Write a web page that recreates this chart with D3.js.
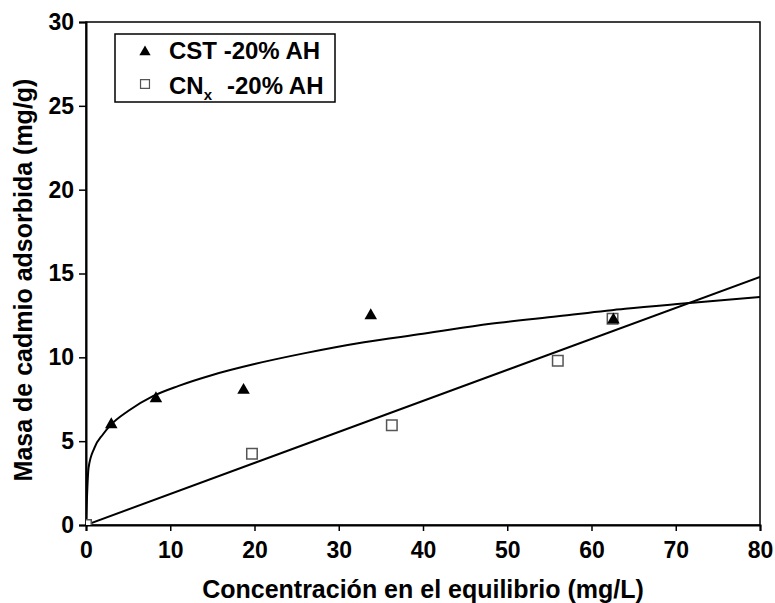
<!DOCTYPE html>
<html>
<head>
<meta charset="utf-8">
<script src="https://cdn.jsdelivr.net/npm/d3@7"></script>
<style>
  body { margin: 0; background: #fff; }
  text { font-family: "Liberation Sans", Arial, sans-serif; font-weight: bold; fill: #000; }
</style>
</head>
<body>
<script>
// CST -20% AH (triangulos)
const cstX = [3.0, 8.3, 18.7, 33.8, 62.6];
const cstY = [6.05, 7.6, 8.1, 12.55, 12.3];
// CNx -20% AH (cuadrados)
const cnX = [0, 19.7, 36.3, 56.0, 62.5];
const cnY = [0, 4.25, 5.95, 9.8, 12.3];

// curva de ajuste CST
const fitCstX = [0, 0.3, 1, 2, 3, 5, 8, 11, 15, 20, 26, 33, 40, 48, 56, 64, 72, 80];
const fitCstY = [0, 3.4, 4.6, 5.4, 6.0, 6.8, 7.7, 8.3, 8.95, 9.6, 10.25, 10.9, 11.4, 12.0, 12.45, 12.9, 13.25, 13.6];
// recta de ajuste CNx
const fitCnX = [0, 80];
const fitCnY = [0, 14.8];

const xTicks = [0, 10, 20, 30, 40, 50, 60, 70, 80];
const yTicks = [0, 5, 10, 15, 20, 25, 30];

const width = 775;
const height = 603;
const mLeft = 86, mRight = 760, mTop = 22, mBottom = 525;

const svg = d3.select('body')
  .append('svg')
  .attr('width', width)
  .attr('height', height);

const x = d3.scaleLinear().domain([0, 80]).range([mLeft, mRight]);
const y = d3.scaleLinear().domain([0, 30]).range([mBottom, mTop]);

svg.append('clipPath')
  .attr('id', 'plot')
  .append('rect')
  .attr('x', mLeft).attr('y', mTop)
  .attr('width', mRight - mLeft).attr('height', mBottom - mTop);

// marco
svg.append('rect')
  .attr('x', mLeft).attr('y', mTop)
  .attr('width', mRight - mLeft).attr('height', mBottom - mTop)
  .attr('fill', 'none')
  .attr('stroke', '#000')
  .attr('stroke-width', 1.5);

// ejes
const xAxis = svg.append('g')
  .attr('transform', `translate(0,${mBottom})`)
  .call(d3.axisBottom(x).tickValues(xTicks).tickSize(6).tickPadding(11));
const yAxis = svg.append('g')
  .attr('transform', `translate(${mLeft},0)`)
  .call(d3.axisLeft(y).tickValues(yTicks).tickSize(7).tickPadding(5));

[xAxis, yAxis].forEach(a => {
  a.selectAll('path').attr('stroke', '#000').attr('stroke-width', 2);
  a.selectAll('line').attr('stroke', '#000').attr('stroke-width', 1.5);
  a.selectAll('text').style('font-size', '23px').style('font-family', '"Liberation Sans", Arial, sans-serif')
    .style('font-weight', 'bold');
});

const plot = svg.append('g').attr('clip-path', 'url(#plot)');

const line = d3.line()
  .x(d => x(d[0]))
  .y(d => y(d[1]))
  .curve(d3.curveMonotoneX);

plot.append('path')
  .datum(d3.zip(fitCstX, fitCstY))
  .attr('d', line)
  .attr('fill', 'none')
  .attr('stroke', '#000')
  .attr('stroke-width', 2);

plot.append('path')
  .datum(d3.zip(fitCnX, fitCnY))
  .attr('d', d3.line().x(d => x(d[0])).y(d => y(d[1])))
  .attr('fill', 'none')
  .attr('stroke', '#000')
  .attr('stroke-width', 2);

const square = d3.symbol().type(d3.symbolSquare).size(110);
const triangle = d3.symbol().type(d3.symbolTriangle).size(68);

plot.selectAll('.cn')
  .data(d3.zip(cnX, cnY))
  .enter()
  .append('path')
  .attr('class', 'cn')
  .attr('transform', d => `translate(${x(d[0])},${y(d[1])})`)
  .attr('d', square)
  .attr('fill', '#fff')
  .attr('stroke', '#555')
  .attr('stroke-width', 1.5);

plot.selectAll('.cst')
  .data(d3.zip(cstX, cstY))
  .enter()
  .append('path')
  .attr('class', 'cst')
  .attr('transform', d => `translate(${x(d[0])},${y(d[1]) + 1})`)
  .attr('d', triangle)
  .attr('fill', '#000');

// leyenda
const legend = svg.append('g');
legend.append('rect')
  .attr('x', 115).attr('y', 34)
  .attr('width', 220).attr('height', 68)
  .attr('fill', '#fff')
  .attr('stroke', '#000')
  .attr('stroke-width', 1.5);
legend.append('path')
  .attr('transform', 'translate(145,52)')
  .attr('d', d3.symbol().type(d3.symbolTriangle).size(55))
  .attr('fill', '#000');
legend.append('text')
  .attr('x', 169).attr('y', 59)
  .style('font-size', '24px')
  .text('CST -20% AH');
legend.append('path')
  .attr('transform', 'translate(145,84)')
  .attr('d', d3.symbol().type(d3.symbolSquare).size(80))
  .attr('fill', '#fff')
  .attr('stroke', '#555')
  .attr('stroke-width', 1.2);
const t2 = legend.append('text')
  .attr('x', 169).attr('y', 94)
  .style('font-size', '24px');
t2.append('tspan').text('CN');
t2.append('tspan').attr('dy', 6).style('font-size', '15px').text('x');
t2.append('tspan').attr('dy', -6).attr('x', 227).text('-20% AH');

// titulos
svg.append('text')
  .attr('x', (mLeft + mRight) / 2)
  .attr('y', 598)
  .attr('text-anchor', 'middle')
  .style('font-size', '25px')
  .text('Concentración en el equilibrio (mg/L)');

svg.append('text')
  .attr('transform', 'translate(32,280) rotate(-90)')
  .attr('text-anchor', 'middle')
  .style('font-size', '25px')
  .text('Masa de cadmio adsorbida (mg/g)');
</script>
</body>
</html>
